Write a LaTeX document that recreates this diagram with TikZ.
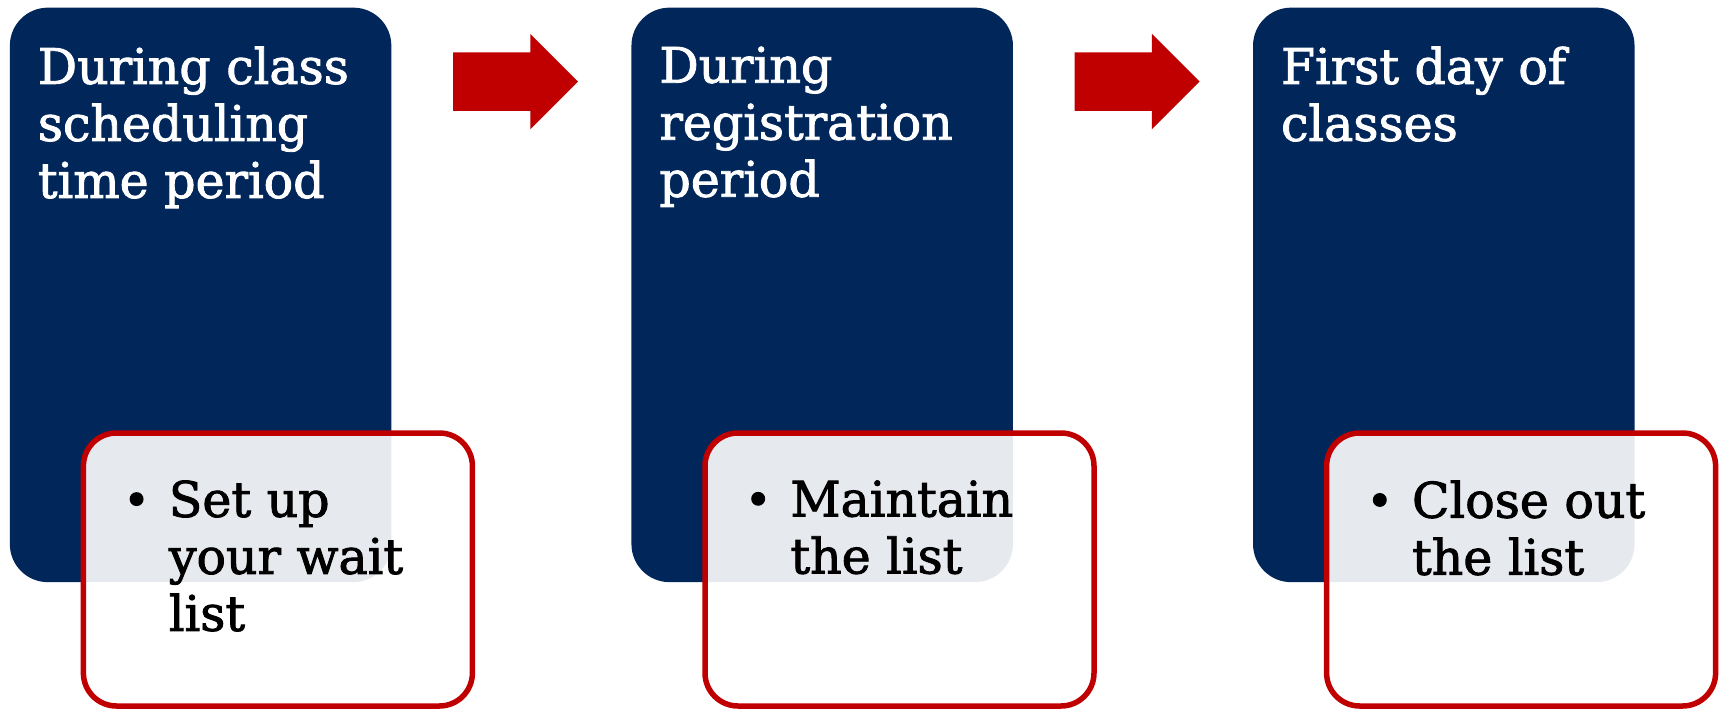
\documentclass[tikz,border=0pt]{standalone}
\usepackage{fontspec}
\setmainfont{DejaVu Serif}[FakeBold=1.8]
\usetikzlibrary{positioning,shapes.arrows}

\definecolor{navyblue}{RGB}{0,38,90}
\definecolor{darkred}{RGB}{192,0,0}

\tikzset{
  phase/.style={fill=navyblue, rounded corners=38pt, minimum width=381.5pt, minimum height=574.5pt, inner sep=0},
  task/.style={draw=darkred, line width=5.5pt, fill=white, fill opacity=0.9, rounded corners=33pt, minimum width=389pt, minimum height=273pt, inner sep=0},
  heading/.style={text=white, align=left, anchor=north west, inner sep=0, font=\fontsize{49}{57}\selectfont},
  item/.style={text=black, align=left, anchor=north west, inner sep=0, font=\fontsize{49}{57}\selectfont},
  flow/.style={single arrow, fill=darkred, anchor=tail, minimum height=125pt, text height=29pt, text depth=29pt, single arrow head extend=18.5pt, inner sep=0}
}
\newcommand{\dotitem}{\llap{\raisebox{1pt}{\fontsize{45}{57}\selectfont\textbullet}\hspace{19pt}}}

\begin{document}
\begin{tikzpicture}[x=1pt, y=-1pt]
\useasboundingbox (0,0) rectangle (1719,709);
% the three phases
\node[phase] (phase1) at (200.6,294.9) {};
\node[phase] (phase2) at (822.2,294.9) {};
\node[phase] (phase3) at (1443.8,294.9) {};
\node[heading] (head1) at ([xshift=28pt, yshift=-39pt]phase1.north west) {During class\\scheduling\\time period};
\node[heading] (head2) at ([xshift=28pt, yshift=-39pt]phase2.north west) {During\\registration\\period};
\node[heading] (head3) at ([xshift=28pt, yshift=-39pt]phase3.north west) {First day of\\classes};
% arrows between phases
\node[flow] (arrow1) at (452.8,81.6) {};
\node[flow] (arrow2) at (1074.4,81.6) {};
% what to do in each phase
\node[task] (task1) at (277.9,569.5) {};
\node[task] (task2) at (899.5,569.5) {};
\node[task] (task3) at (1521.1,569.5) {};
\node[item] (item1) at ([xshift=88pt, yshift=-50pt]task1.north west) {\dotitem Set up\\your wait\\list};
\node[item] (item2) at ([xshift=88pt, yshift=-50pt]task2.north west) {\dotitem Maintain\\the list};
\node[item] (item3) at ([xshift=88pt, yshift=-50pt]task3.north west) {\dotitem Close out\\the list};
\end{tikzpicture}
\end{document}
